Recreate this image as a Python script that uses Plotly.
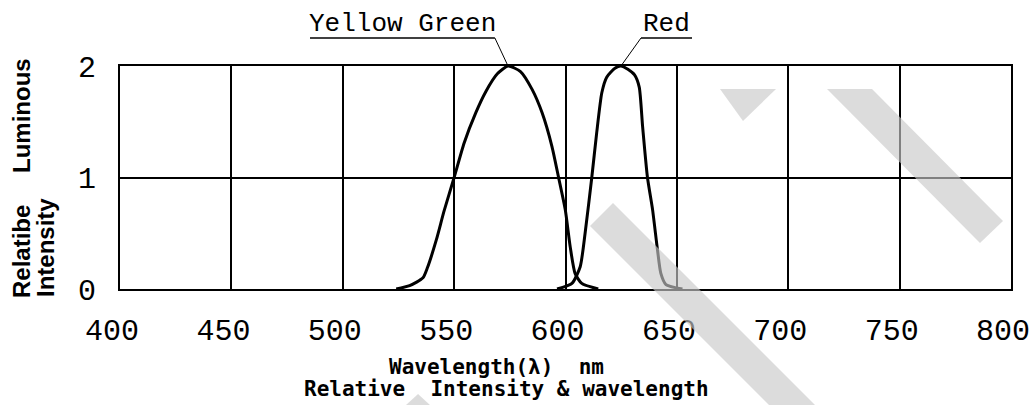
import plotly.graph_objects as go

# ---- data ----
yg_wl = [524, 530, 536, 538, 542, 545.5, 550, 554.5, 559.7, 564.2, 569.4, 574.2,
         579.8, 585, 589.5, 593.9, 596.9, 599.9, 602.1, 604.3, 607.3, 614.7]
yg_int = [0, 0.03, 0.10, 0.19, 0.44, 0.70, 1.0, 1.31, 1.58, 1.77, 1.93, 2.0,
          1.95, 1.79, 1.58, 1.28, 1.0, 0.71, 0.38, 0.14, 0.05, 0]

red_wl = [596.2, 602.9, 606.6, 608.8, 611.8, 614, 616.3, 618.5, 622.2, 624.9,
          628, 631, 633.1, 634.6, 636.8, 639.1, 641.3, 642.8, 645.1, 652.5]
red_int = [0, 0.05, 0.2, 0.5, 1.0, 1.40, 1.76, 1.9, 1.98, 2.0,
           1.97, 1.92, 1.81, 1.46, 1.0, 0.71, 0.35, 0.14, 0.04, 0]

x_ticks = [400, 450, 500, 550, 600, 650, 700, 750, 800]
y_ticks = [0, 1, 2]

series_names = ["Yellow Green", "Red"]
peaks = [(574.2, 2.0), (624.9, 2.0)]

W, H = 1033, 405
L, R, T, B = 120, 22, 66, 116
PW, PH = W - L - R, H - T - B

def px(xp, yp):
    """pixel -> paper coordinates (for decorative items)"""
    return (xp - L) / PW, (H - B - yp) / PH

def poly(points):
    s = ""
    for i, (a, b) in enumerate(points):
        xx, yy = px(a, b)
        s += ("M" if i == 0 else "L") + f" {xx:.4f},{yy:.4f} "
    return s + "Z"

fig = go.Figure()
for wl, it, nm in [(yg_wl, yg_int, series_names[0]), (red_wl, red_int, series_names[1])]:
    fig.add_trace(go.Scatter(x=wl, y=it, mode="lines", name=nm,
                             line=dict(color="black", width=3, shape="spline", smoothing=0.6),
                             showlegend=False, hoverinfo="skip"))

tickfont = dict(family="Liberation Mono", size=30, color="black")
fig.update_xaxes(range=[400, 800], tickvals=x_ticks, ticktext=[str(v) for v in x_ticks],
                 showgrid=True, gridcolor="black", gridwidth=1.5,
                 showline=True, linecolor="black", linewidth=2, mirror=True,
                 zeroline=False, ticks="", tickfont=tickfont, ticklabelstandoff=13,
                 ticklabelshift=-8, automargin=False, ticklabeloverflow="allow")
fig.update_yaxes(range=[0, 2], tickvals=y_ticks, ticktext=[str(v) for v in y_ticks],
                 showgrid=True, gridcolor="black", gridwidth=1.5,
                 showline=True, linecolor="black", linewidth=2, mirror=True,
                 zeroline=False, ticks="", tickfont=tickfont, ticklabelstandoff=16,
                 automargin=False)

# series labels with underline + leader line
ul_y = (H - B - 38) / PH
lab_y = (H - B - 24) / PH
label_spans = [(485.3, 568.3), (633.9, 656.8)]
shapes = []
annos = []
for (x0, x1), (pkx, pky), nm, side in zip(label_spans, peaks, series_names, ["right", "left"]):
    start = x1 if side == "right" else x0
    shapes.append(dict(type="path", xref="x", yref="paper",
                       path=f"M {x0},{ul_y:.4f} L {x1},{ul_y:.4f}",
                       line=dict(color="black", width=1.5)))
    shapes.append(dict(type="path", xref="x", yref="paper",
                       path=f"M {start},{ul_y:.4f} L {pkx},1.0",
                       line=dict(color="black", width=1)))
    annos.append(dict(text=nm, xref="x", yref="paper", x=(x0 + x1) / 2, y=lab_y,
                      xanchor="center", yanchor="middle", showarrow=False,
                      font=dict(family="Liberation Mono", size=26, color="black")))

tfont = dict(family="DejaVu Sans Mono", size=21, color="black")
# x-axis titles
annos.append(dict(text="<b>Wavelength(λ)\u00a0\u00a0nm</b>", xref="paper", yref="paper",
                  x=px(496, 0)[0], y=px(0, 367)[1], xanchor="center", yanchor="middle",
                  showarrow=False, font=tfont))
annos.append(dict(text="<b>Relative\u00a0\u00a0Intensity\u00a0&\u00a0wavelength</b>",
                  xref="paper", yref="paper",
                  x=px(506, 0)[0], y=px(0, 389)[1], xanchor="center", yanchor="middle",
                  showarrow=False, font=tfont))
# y-axis titles (rotated)
yfont = dict(family="Liberation Sans", size=24, color="black")
for txt, cx, cy in [("Relatibe", 21, 252), ("Luminous", 21, 116), ("Intensity", 45, 248)]:
    xx, yy = px(cx, cy)
    annos.append(dict(text=f"<b>{txt}</b>", xref="paper", yref="paper", x=xx, y=yy,
                      xanchor="center", yanchor="middle", textangle=-90,
                      showarrow=False, font=yfont))

# watermark bands
wm = dict(type="path", xref="paper", yref="paper", layer="above",
          fillcolor="rgba(200,200,200,0.64)", line=dict(width=0))
for pts in [
    [(720, 89), (776, 89), (743, 121)],
    [(827, 89), (872, 89), (1003, 221), (980, 243)],
    [(613, 203), (815, 405), (769, 405), (590, 226)],
    [(418, 394), (430, 405), (406, 405)],
]:
    d = dict(wm)
    d["path"] = poly(pts)
    shapes.append(d)

fig.update_layout(width=W, height=H,
                  margin=dict(l=L, r=R, t=T, b=B, autoexpand=False),
                  paper_bgcolor="white", plot_bgcolor="white",
                  shapes=shapes, annotations=annos)

fig.write_html("out.html", config={"displayModeBar": False},
               post_script="document.body.style.margin='0';document.body.style.overflow='hidden';")
